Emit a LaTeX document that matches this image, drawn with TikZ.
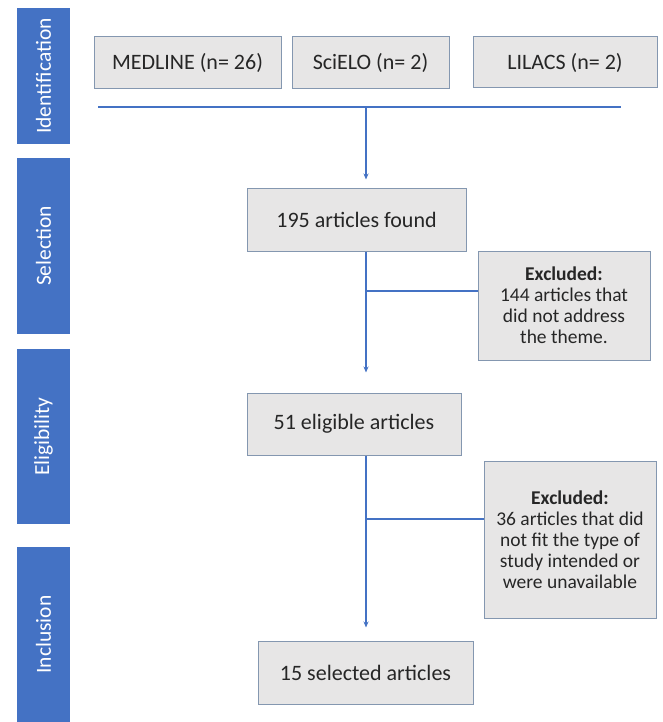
\documentclass[tikz,border=0pt]{standalone}
\usepackage{fontspec}
\setmainfont{Carlito}
\usetikzlibrary{arrows.meta}
\definecolor{barblue}{HTML}{4472C4}
\definecolor{boxfill}{HTML}{E7E6E6}
\definecolor{boxline}{HTML}{8497B0}
\definecolor{txt}{HTML}{262626}
\begin{document}
\begin{tikzpicture}[x=1pt,y=-1pt,
  bar/.style={fill=barblue, draw=none, text=white, rotate=90, minimum height=53pt, inner sep=0pt,
    font=\fontsize{21.5}{22}\selectfont},
  box/.style={fill=boxfill, draw=boxline, line width=1pt, text=txt, align=center, inner sep=0pt,
    font=\fontsize{22}{22}\selectfont},
  exbox/.style={box, font=\fontsize{19.5}{21}\selectfont},
  flow/.style={draw=barblue, line width=1.2pt},
  arr/.style={flow, -{Stealth[length=6pt,width=5pt]}}]
\useasboundingbox (0,0) rectangle (662,722);
% phase bars
\node[bar, minimum width=136pt] (id) at (43.5,76) {Identification};
\node[bar, minimum width=176pt] (sel) at (43.5,246) {Selection};
\node[bar, minimum width=175pt] (eli) at (43.5,436.5) {Eligibility};
\node[bar, minimum width=175pt] (inc) at (43.5,634.5) {Inclusion};
% sources
\node[box, minimum width=187pt, minimum height=52pt] (med) at (187.5,63) {MEDLINE (n= 26)};
\node[box, minimum width=157pt, minimum height=52pt] (sci) at (370.5,63) {SciELO (n= 2)};
\node[box, minimum width=184pt, minimum height=51pt] (lil) at (565,62.5) {LILACS (n= 2)};
% flow boxes
\node[box, minimum width=219pt, minimum height=63pt] (found) at (356.5,219.5) {195 articles found};
\node[exbox, minimum width=172pt, minimum height=109pt] (exa) at (564,305.5)
  {\textbf{Excluded:}\\144 articles that\\did not address\\the theme.};
\node[box, minimum width=214pt, minimum height=62pt] (elig) at (354,424) {51 eligible articles};
\node[exbox, minimum width=172pt, minimum height=157pt] (exb) at (570,539.5)
  {\textbf{Excluded:}\\36 articles that did\\not fit the type of\\study intended or\\were unavailable};
\node[box, minimum width=215pt, minimum height=63pt] (selc) at (365.5,672.5) {15 selected articles};
% connectors
\coordinate (hl) at (98,107);
\coordinate (hr) at (621,107);
\coordinate (jt) at (366,107);
\coordinate (b1) at (366,291);
\coordinate (b2) at (366,519);
\draw[flow] (hl) -- (hr);
\draw[arr, shorten >=8pt] (jt) -- (found.north -| jt);
\draw[arr, shorten >=20pt] (found.south -| jt) -- (elig.north -| jt);
\draw[flow] (b1) -- (exa.west |- b1);
\draw[arr, shorten >=13pt] (elig.south -| jt) -- (selc.north -| jt);
\draw[flow] (b2) -- (exb.west |- b2);
\end{tikzpicture}
\end{document}
